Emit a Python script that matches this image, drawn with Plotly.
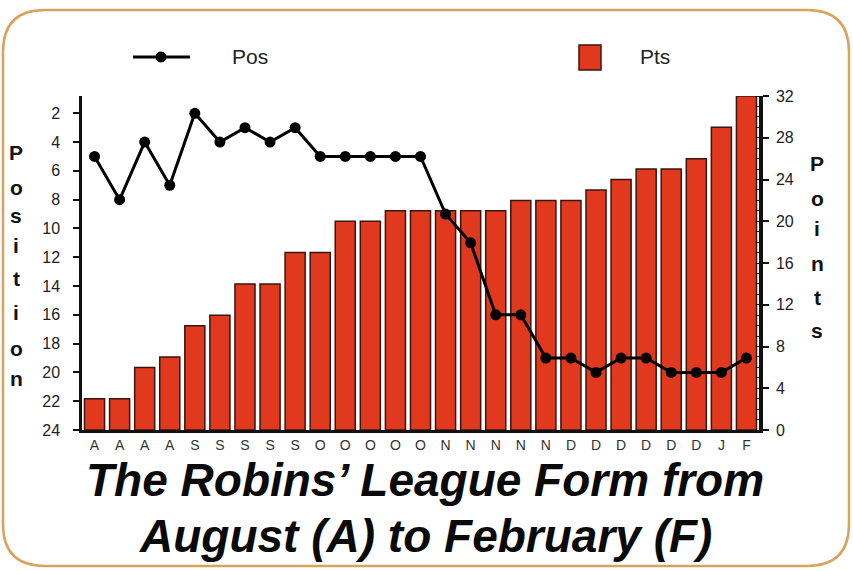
import plotly.graph_objects as go

# ---------------- data ----------------
match_labels = ["A", "A", "A", "A",
                "S", "S", "S", "S", "S",
                "O", "O", "O", "O", "O",
                "N", "N", "N", "N", "N",
                "D", "D", "D", "D", "D", "D",
                "J", "F"]
points = [3, 3, 6, 7, 10, 11, 14, 14, 17, 17, 20, 20, 21, 21,
          21, 21, 21, 22, 22, 22, 23, 24, 25, 25, 26, 29, 32]
position = [5, 8, 4, 7, 2, 4, 3, 4, 3, 5, 5, 5, 5, 5,
            9, 11, 16, 16, 19, 19, 20, 19, 19, 20, 20, 20, 19]
pos_ticks = list(range(2, 25, 2))
pts_ticks = list(range(0, 33, 4))
title_lines = ["The Robins’ League Form from", "August (A) to February (F)"]
left_title = "Position"
right_title = "Points"
legend_names = ["Pos", "Pts"]

# ---------------- layout geometry ----------------
W, H = 853, 571
L, R, T, B = 82, 94, 96, 141
PW, PH = W - L - R, H - T - B


def px_x(x):
    return (x - L) / PW


def px_y(y):
    return (H - B - y) / PH


BAR_COLOR = "#e0391d"
BAR_EDGE = "#3b1510"
FONT = "Liberation Sans"
idx = list(range(len(match_labels)))

fig = go.Figure()
fig.add_trace(go.Bar(
    x=idx, y=points, name=legend_names[1], yaxis="y",
    marker=dict(color=BAR_COLOR, line=dict(color=BAR_EDGE, width=1.5)),
))
fig.add_trace(go.Scatter(
    x=idx, y=position, name=legend_names[0], yaxis="y2",
    mode="lines+markers",
    line=dict(color="#000000", width=3),
    marker=dict(color="#000000", size=11),
))

fig.update_layout(
    width=W, height=H,
    margin=dict(l=L, r=R, t=T, b=B, pad=0),
    paper_bgcolor="#ffffff", plot_bgcolor="rgba(0,0,0,0)",
    showlegend=False, bargap=0.2,
    font=dict(family=FONT, color="#222222"),
    xaxis=dict(
        range=[-0.5, len(match_labels) - 0.5],
        tickmode="array", tickvals=idx, ticktext=match_labels,
        tickfont=dict(size=14, color="#333333"),
        ticks="", showgrid=False, zeroline=False,
        showline=True, linecolor="#111111", linewidth=3,
    ),
    yaxis=dict(
        side="right", range=[0, 32],
        tickmode="array", tickvals=pts_ticks,
        tickfont=dict(size=16, color="#222222"),
        ticks="outside", ticklen=6, tickwidth=1.5, tickcolor="#111111",
        minor=dict(ticks="inside", dtick=1, ticklen=3, tickcolor="#111111", tickwidth=1),
        showline=True, linecolor="#111111", linewidth=3.5,
        showgrid=False, zeroline=False,
        ticklabelstandoff=4,
    ),
    yaxis2=dict(
        overlaying="y", side="left", range=[24, 0.8],
        tickmode="array", tickvals=pos_ticks,
        tickfont=dict(size=16, color="#222222"),
        ticks="outside", ticklen=6, tickwidth=1.5, tickcolor="#111111",
        showline=True, linecolor="#111111", linewidth=2.5,
        showgrid=False, zeroline=False,
        ticklabelstandoff=10,
    ),
)

annotations = []
# vertical axis titles, one letter per line
left_ys = [152, 187, 215, 245, 278, 312, 348, 378]
for ch, yy in zip(left_title, left_ys):
    annotations.append(dict(xref="paper", yref="paper", x=px_x(16), y=px_y(yy),
                            text="<b>" + ch + "</b>", showarrow=False,
                            font=dict(size=21, color="#111111", family=FONT),
                            xanchor="center", yanchor="middle"))
right_ys = [163, 198, 228, 263, 297, 330]
for ch, yy in zip(right_title, right_ys):
    annotations.append(dict(xref="paper", yref="paper", x=px_x(817), y=px_y(yy),
                            text="<b>" + ch + "</b>", showarrow=False,
                            font=dict(size=21, color="#111111", family=FONT),
                            xanchor="center", yanchor="middle"))
# chart title (two lines)
for txt, yy in zip(title_lines, [480, 536]):
    annotations.append(dict(xref="paper", yref="paper", x=px_x(425), y=px_y(yy),
                            text="<b><i>" + txt + "</i></b>", showarrow=False,
                            font=dict(size=46, color="#0a0a0a", family=FONT),
                            xanchor="center", yanchor="middle"))
# legend texts
annotations.append(dict(xref="paper", yref="paper", x=px_x(230), y=px_y(57),
                        text=legend_names[0], showarrow=False,
                        font=dict(size=21, color="#222222", family=FONT),
                        xanchor="left", yanchor="middle"))
annotations.append(dict(xref="paper", yref="paper", x=px_x(638), y=px_y(57),
                        text=legend_names[1], showarrow=False,
                        font=dict(size=21, color="#222222", family=FONT),
                        xanchor="left", yanchor="middle"))

shapes = []
# legend symbols
shapes.append(dict(type="line", xref="paper", yref="paper",
                   x0=px_x(133), x1=px_x(190), y0=px_y(57), y1=px_y(57),
                   line=dict(color="#000000", width=3)))
shapes.append(dict(type="circle", xref="paper", yref="paper",
                   x0=px_x(156), x1=px_x(166), y0=px_y(62), y1=px_y(52),
                   fillcolor="#000000", line=dict(color="#000000", width=1)))
shapes.append(dict(type="rect", xref="paper", yref="paper",
                   x0=px_x(579), x1=px_x(601), y0=px_y(70), y1=px_y(45),
                   fillcolor=BAR_COLOR, line=dict(color=BAR_EDGE, width=1.5)))

# rounded frame around the whole graphic
x0, x1, y0, y1, rad = 3, 849, 10, 566, 42


def P(x, y):
    return "%.5f,%.5f" % (px_x(x), px_y(y))


path = ("M " + P(x0 + rad, y0) + " L " + P(x1 - rad, y0) +
        " Q " + P(x1, y0) + " " + P(x1, y0 + rad) +
        " L " + P(x1, y1 - rad) +
        " Q " + P(x1, y1) + " " + P(x1 - rad, y1) +
        " L " + P(x0 + rad, y1) +
        " Q " + P(x0, y1) + " " + P(x0, y1 - rad) +
        " L " + P(x0, y0 + rad) +
        " Q " + P(x0, y0) + " " + P(x0 + rad, y0) + " Z")
shapes.append(dict(type="path", xref="paper", yref="paper", path=path,
                   line=dict(color="#d9a25c", width=2.5), layer="below"))

fig.update_layout(annotations=annotations, shapes=shapes)
fig.write_html("out.html",
               config={"displayModeBar": False},
               post_script="document.body.style.margin='0px';document.body.style.overflow='hidden';")
